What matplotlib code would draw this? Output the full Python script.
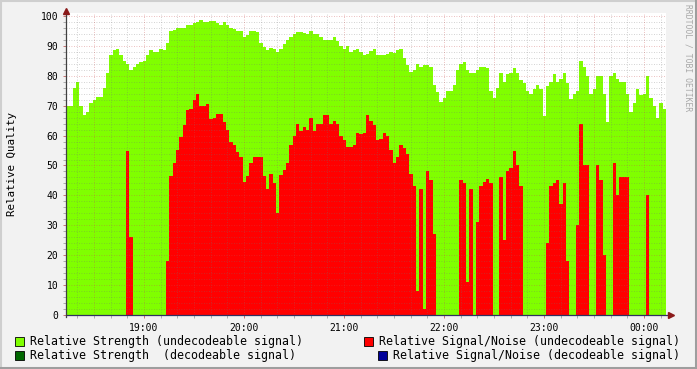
import numpy as np
import matplotlib
matplotlib.use("Agg")
import matplotlib.pyplot as plt
from matplotlib.patches import Rectangle
from matplotlib.lines import Line2D
from matplotlib.ticker import MultipleLocator, FixedLocator

# ---- data: 2-minute samples starting 18:13 (minutes after 18:00) ----
start_minute = 13.2
step_minutes = 2

strength_undecodeable = [
    70, 70, 76, 78, 70, 67, 68, 71, 72, 73, 73, 76, 81, 87, 88.5, 89, 87, 85, 84, 82,
    83, 84, 84.5, 85, 87, 88.5, 88, 88, 89,
    88.5, 91, 95, 95.3, 96, 96, 96, 97, 97, 97.5, 98, 98.5, 98, 98, 98.4, 98.3, 97.5, 97,
    98, 97, 96, 95.5, 95, 95, 93, 93.5, 95, 95, 94.5, 91,
    89.5, 88.5, 89.3, 89, 88, 89, 90.5, 92, 93, 94, 94.5, 94.6, 94.3, 94, 95, 94, 94, 93,
    92, 92, 92, 93, 91.7, 90, 89, 90, 88, 88.5, 89, 88,
    87, 87.4, 88.4, 89, 87, 86.8, 86.8, 87.3, 88, 87.6, 88.5, 89, 86, 83.7, 81.2, 82, 84,
    83, 83.5, 83.5, 83, 77, 74.5, 71.2, 72.5, 75, 75, 77, 82, 84, 84.6,
    82, 81, 81, 82, 83, 83, 82.5, 75, 72.5, 76, 81, 78, 80.5, 81, 82.5, 81, 78.5, 77.5,
    75, 74, 75.5, 76.8, 75.5, 66.5, 76.5, 78, 80.5, 78, 79, 81,
    77.5, 72.3, 74, 75, 84.8, 83, 80, 74, 75.7, 80, 80, 74, 64.5, 80, 81, 79, 78, 78,
    74, 68, 71, 75.5, 73.5, 74, 80, 72.5, 70, 66, 70.8, 69,
]

snr_undecodeable = [
    0, 0, 0, 0, 0, 0, 0, 0, 0, 0, 0, 0, 0, 0, 0, 0, 0, 0, 55, 26,
    0, 0, 0, 0, 0, 0, 0, 0, 0, 0, 18,
    46.5, 51, 55.3, 59.5, 63.7, 68.5, 69, 72, 74, 70, 70, 70.6, 65.5, 66, 67.3, 67.3,
    64.5, 62, 58, 57, 54.5, 52.8, 44.6, 46.5, 51, 53, 53, 53,
    46.4, 42, 47, 44, 34, 46.8, 48.5, 51, 57, 60, 64, 61.5, 63, 62, 66, 61.5, 64, 64,
    67, 67, 64, 65, 64, 60, 58.5, 56.2, 56.2, 57, 61, 60.5,
    61, 67, 65, 63.7, 58.5, 59, 61, 60, 55.3, 51, 53, 57, 56, 54, 47, 43,
    8, 42, 2, 48, 45, 27,
    0, 0, 0, 0, 0, 0, 0,
    45, 44, 11, 42, 0, 31, 43, 44.5, 45.5, 44, 0, 0, 46, 25, 48, 49.2, 55, 50, 43,
    0, 0, 0, 0, 0, 0, 0,
    24, 43, 44, 45, 37, 44, 18,
    0, 0,
    30, 64, 50, 50,
    0, 0,
    50, 45, 20,
    0, 0,
    51, 40, 46, 46, 46,
    0, 0, 0, 0, 0,
    40,
    0, 0, 0, 0, 0,
]

hour_ticks = [60, 120, 180, 240, 300, 360]
hour_labels = ["19:00", "20:00", "21:00", "22:00", "23:00", "00:00"]
y_ticks = [0, 10, 20, 30, 40, 50, 60, 70, 80, 90, 100]

legend_entries = [
    ("Relative Strength (undecodeable signal)", "#80FF00"),
    ("Relative Signal/Noise (undecodeable signal)", "#FF0000"),
    ("Relative Strength  (decodeable signal)", "#006600"),
    ("Relative Signal/Noise (decodeable signal)", "#000099"),
]

# ---- figure ----
W, H = 697, 369
BG = "#f2f2f2"
mono = "DejaVu Sans Mono"
fig = plt.figure(figsize=(W / 100, H / 100), dpi=100, facecolor=BG)

px_left, px_right, px_top, px_bottom = 66, 666, 13, 315
ax = fig.add_axes([px_left / W, 1 - px_bottom / H,
                   (px_right - px_left) / W, (px_bottom - px_top) / H])
ax.set_facecolor("white")

n = len(strength_undecodeable)
edges = start_minute + step_minutes * np.arange(n + 1)
g = np.append(strength_undecodeable, strength_undecodeable[-1])
r = np.append(snr_undecodeable, snr_undecodeable[-1])
ax.fill_between(edges, 0, g, step="post", color="#80FF00", linewidth=0, zorder=1)
ax.fill_between(edges, 0, r, step="post", color="#FF0000", linewidth=0, zorder=2)

ax.set_xlim(edges[0], edges[-1])
ax.set_ylim(0, 101)

# grid
minor_c = (0.45, 0.45, 0.45, 0.42)
major_c = (0.80, 0.30, 0.30, 0.48)
for yv in np.arange(2, 101, 2):
    if yv % 10:
        ax.axhline(yv, color=minor_c, lw=0.6, ls=(0, (1, 2)), zorder=3)
for yv in y_ticks[1:]:
    ax.axhline(yv, color=major_c, lw=0.6, ls=(0, (1, 2)), zorder=3)
for xv in np.arange(20, 374, 10):
    if xv % 30:
        ax.axvline(xv, color=minor_c, lw=0.6, ls=(0, (1, 2)), zorder=3)
for xv in np.arange(30, 374, 30):
    ax.axvline(xv, color=major_c, lw=0.6, ls=(0, (1, 2)), zorder=3)

# ticks
ax.xaxis.set_major_locator(FixedLocator(hour_ticks))
ax.set_xticklabels(hour_labels)
ax.xaxis.set_minor_locator(FixedLocator([v for v in np.arange(20, 374, 10) if v % 60]))
ax.yaxis.set_major_locator(FixedLocator(y_ticks))
ax.set_yticklabels([str(v) for v in y_ticks])
ax.yaxis.set_minor_locator(MultipleLocator(2))
ax.tick_params(axis="both", which="major", direction="out", length=2.5, width=0.6,
               color="#c06060", labelsize=7, pad=3)
ax.tick_params(axis="both", which="minor", direction="out", length=2, width=0.6,
               color="#a0a0a0")
for lab in ax.get_xticklabels() + ax.get_yticklabels():
    lab.set_family(mono)

for s in ax.spines.values():
    s.set_visible(False)

# axis lines with arrows
axis_c = "#303060"
ax.add_line(Line2D([0, 1.0085], [0, 0], transform=ax.transAxes, color=axis_c,
                   lw=0.9, clip_on=False, zorder=5))
ax.add_line(Line2D([0, 0], [-0.008, 1.006], transform=ax.transAxes, color="#404040",
                   lw=0.9, clip_on=False, zorder=5))
ax.plot([1.0085], [0], marker=">", ms=4, color="#8b1a1a", transform=ax.transAxes,
        clip_on=False, zorder=6)
ax.plot([0], [1.006], marker="^", ms=4, color="#8b1a1a", transform=ax.transAxes,
        clip_on=False, zorder=6)

ax.set_ylabel("Relative Quality", family=mono, fontsize=7.8, labelpad=6)
ax.yaxis.set_label_coords(-49 / 600, 0.5)

# side title
fig.text(688 / W, 1 - 4 / H, "RRDTOOL / TOBI OETIKER", rotation=270, ha="center",
         va="top", family=mono, fontsize=5.8, color="#a8a8a8")

# legend (drawn as in rrdtool)
fs = 8.4
rows_y = [341, 355]
def swatch(xp, yp, color):
    fig.patches.append(Rectangle((xp / W, 1 - (yp + 4.5) / H), 9 / W, 9 / H,
                                 transform=fig.transFigure, facecolor=color,
                                 edgecolor="black", lw=0.6))

# left column
for (txt, col), yp in zip([legend_entries[0], legend_entries[2]], rows_y):
    swatch(15, yp, col)
    fig.text(30 / W, 1 - yp / H, txt, family=mono, fontsize=fs, va="center", ha="left")
# right column (right-justified)
for (txt, col), yp in zip([legend_entries[1], legend_entries[3]], rows_y):
    t = fig.text(680 / W, 1 - yp / H, txt, family=mono, fontsize=fs, va="center", ha="right")
    width_px = len(txt) * fs * 0.602 * 100 / 72
    swatch(680 - width_px - 14, yp, col)

# frame shading
fig.add_artist(Line2D([0, 1], [1 - 0.5 / H, 1 - 0.5 / H], transform=fig.transFigure, color="#cfcfcf", lw=1.5))
fig.add_artist(Line2D([0.5 / W, 0.5 / W], [0, 1], transform=fig.transFigure, color="#cfcfcf", lw=1.5))
fig.add_artist(Line2D([0, 1], [1.2 / H, 1.2 / H], transform=fig.transFigure, color="#9e9e9e", lw=2.2))
fig.add_artist(Line2D([1 - 1.2 / W, 1 - 1.2 / W], [0, 1], transform=fig.transFigure, color="#9e9e9e", lw=2.2))

fig.savefig("out.png", dpi=100, facecolor=BG)
